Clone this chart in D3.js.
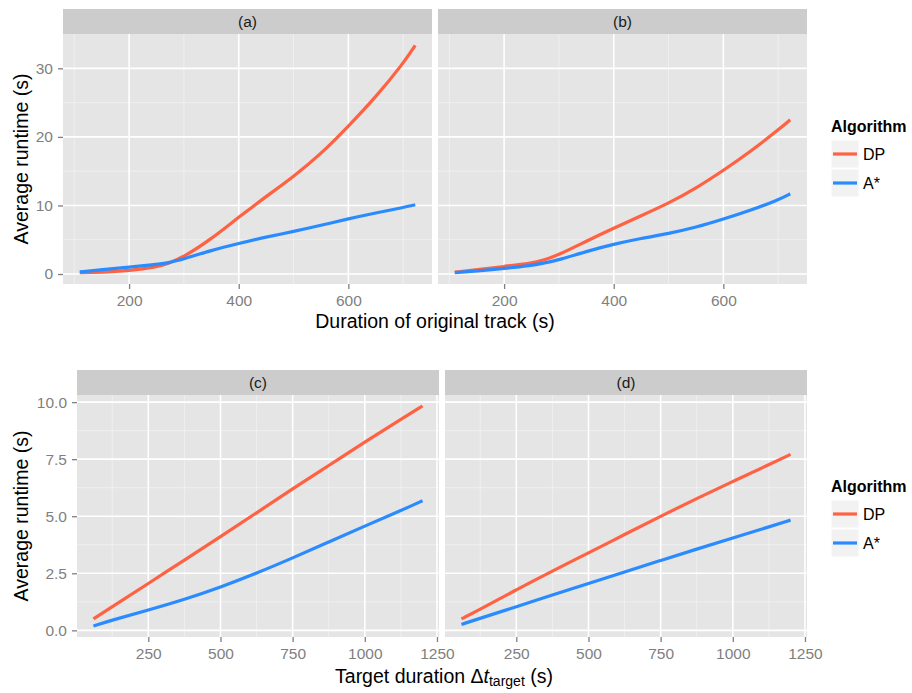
<!DOCTYPE html>
<html><head><meta charset="utf-8">
<script src="https://cdn.jsdelivr.net/npm/d3@7"></script>
<style>body{margin:0;background:#fff}svg{display:block}</style>
</head><body>
<svg id="chart" width="912" height="693"></svg>
<script>
// ---------- DATA ----------
const algorithms = ["DP", "A*"];
const colors = ["#FF6242", "#2A8BFF"];

const durationX = [110, 150, 200, 250, 270, 300, 350, 400, 450, 500, 550, 600, 650, 700, 722];
const dpA   = [0.2, 0.25, 0.5, 1.0, 1.5, 2.5, 5.1, 8.3, 11.3, 14.2, 17.5, 21.55, 25.8, 30.7, 33.35];
const astarA= [0.3, 0.62, 1.0, 1.4, 1.6, 2.2, 3.45, 4.45, 5.4, 6.2, 7.1, 8.05, 8.9, 9.7, 10.1];
const dpB   = [0.27, 0.6, 1.1, 1.6, 1.95, 2.8, 4.8, 6.7, 8.5, 10.3, 12.5, 15.1, 17.9, 21.0, 22.5];
const astarB= [0.2, 0.45, 0.8, 1.25, 1.55, 2.05, 3.3, 4.35, 5.2, 5.9, 6.8, 8.0, 9.3, 10.8, 11.7];

const targetX = [60, 125, 250, 375, 500, 625, 750, 875, 1000, 1125, 1200];
const dpC   = [0.5, 1.03, 2.05, 3.08, 4.1, 5.15, 6.2, 7.22, 8.25, 9.25, 9.83];
const astarC= [0.19, 0.45, 0.89, 1.35, 1.89, 2.5, 3.17, 3.87, 4.57, 5.25, 5.68];
const dpD   = [0.5, 0.92, 1.78, 2.6, 3.39, 4.2, 5.0, 5.78, 6.52, 7.26, 7.71];
const astarD= [0.26, 0.53, 1.03, 1.55, 2.05, 2.56, 3.06, 3.56, 4.05, 4.53, 4.83];

const topXTicks = [200, 400, 600];
const topYTicks = [0, 10, 20, 30];
const botXTicks = [250, 500, 750, 1000, 1250];
const botYTicks = [0, 2.5, 5, 7.5, 10];

// ---------- DRAW ----------
const svg = d3.select("#chart");
const FONT = "'Liberation Sans', Arial, Helvetica, sans-serif";

function expand(ext){ const r = ext[1]-ext[0]; return [ext[0]-r*0.05, ext[1]+r*0.05]; }

function drawRow(cfg){
  const allY = cfg.panels.flatMap(p => p.series.flat());
  const xDom = expand(d3.extent(cfg.xs));
  const yDom = expand(d3.extent(allY));
  const y = d3.scaleLinear().domain(yDom).range([cfg.bottom, cfg.top]);
  const yMinor = [];
  for (let i=0;i<cfg.yTicks.length-1;i++) yMinor.push((cfg.yTicks[i]+cfg.yTicks[i+1])/2);
  const xMinorAll = [];
  const step = cfg.xTicks[1]-cfg.xTicks[0];
  xMinorAll.push(cfg.xTicks[0]-step/2);
  for (let i=0;i<cfg.xTicks.length;i++) xMinorAll.push(cfg.xTicks[i]+step/2);

  cfg.panels.forEach((p, pi) => {
    const x = d3.scaleLinear().domain(xDom).range([p.x0, p.x1]);
    const g = svg.append("g");
    // strip
    g.append("rect").attr("x", p.x0).attr("y", cfg.stripTop).attr("width", p.x1-p.x0)
      .attr("height", cfg.top-cfg.stripTop).attr("fill", "#CCCCCC");
    g.append("text").attr("x", (p.x0+p.x1)/2).attr("y", (cfg.stripTop+cfg.top)/2)
      .attr("dy", "0.36em").attr("text-anchor", "middle").attr("font-family", FONT)
      .attr("font-size", 15.5).attr("fill", "#1a1a1a").text(p.label);
    // panel bg
    g.append("rect").attr("x", p.x0).attr("y", cfg.top).attr("width", p.x1-p.x0)
      .attr("height", cfg.bottom-cfg.top).attr("fill", "#E5E5E5");
    const inX = v => v >= xDom[0] && v <= xDom[1];
    const inY = v => v >= yDom[0] && v <= yDom[1];
    // minor grid
    g.selectAll(".mx").data(xMinorAll.filter(inX)).join("line")
      .attr("x1", d=>x(d)).attr("x2", d=>x(d)).attr("y1", cfg.top).attr("y2", cfg.bottom)
      .attr("stroke", "#F2F2F2").attr("stroke-width", 0.8);
    g.selectAll(".my").data(yMinor.filter(inY)).join("line")
      .attr("y1", d=>y(d)).attr("y2", d=>y(d)).attr("x1", p.x0).attr("x2", p.x1)
      .attr("stroke", "#F2F2F2").attr("stroke-width", 0.8);
    // major grid
    g.selectAll(".Mx").data(cfg.xTicks.filter(inX)).join("line")
      .attr("x1", d=>x(d)).attr("x2", d=>x(d)).attr("y1", cfg.top).attr("y2", cfg.bottom)
      .attr("stroke", "#FFFFFF").attr("stroke-width", 1.6);
    g.selectAll(".My").data(cfg.yTicks.filter(inY)).join("line")
      .attr("y1", d=>y(d)).attr("y2", d=>y(d)).attr("x1", p.x0).attr("x2", p.x1)
      .attr("stroke", "#FFFFFF").attr("stroke-width", 1.6);
    // x axis
    const xAxis = d3.axisBottom(x).tickValues(cfg.xTicks.filter(inX)).tickSize(5).tickPadding(6)
      .tickFormat(d => String(d));
    const ax = g.append("g").attr("transform", `translate(0,${cfg.bottom})`).call(xAxis);
    ax.select(".domain").remove();
    ax.selectAll(".tick line").attr("stroke", "#7F7F7F").attr("stroke-width", 1.3);
    ax.selectAll(".tick text").attr("fill", "#7F7F7F").attr("font-family", FONT).attr("font-size", 15.5);
    if (pi === 0){
      const yAxis = d3.axisLeft(y).tickValues(cfg.yTicks).tickSize(5).tickPadding(5)
        .tickFormat(cfg.yFormat);
      const ay = g.append("g").attr("transform", `translate(${p.x0},0)`).call(yAxis);
      ay.select(".domain").remove();
      ay.selectAll(".tick line").attr("stroke", "#7F7F7F").attr("stroke-width", 1.3);
      ay.selectAll(".tick text").attr("fill", "#7F7F7F").attr("font-family", FONT).attr("font-size", 15.5);
    }
    // lines
    const line = d3.line().x((d,i)=>x(cfg.xs[i])).y(d=>y(d)).curve(d3.curveBasis);
    p.series.forEach((s, si) => {
      g.append("path").datum(s).attr("d", line).attr("fill", "none")
        .attr("stroke", colors[si]).attr("stroke-width", 3.2);
    });
  });

  // y title
  svg.append("text").attr("transform", `translate(${cfg.yTitleX},${(cfg.top+cfg.bottom)/2}) rotate(-90)`)
    .attr("text-anchor", "middle").attr("font-family", FONT).attr("font-size", 19.5)
    .attr("fill", "#000").text("Average runtime (s)");

  // legend
  const lg = svg.append("g");
  lg.append("text").attr("x", 831).attr("y", cfg.legendTop).attr("font-family", FONT)
    .attr("font-weight", "bold").attr("font-size", 16).attr("fill", "#000").text("Algorithm");
  algorithms.forEach((a, i) => {
    const by = cfg.legendTop + 8 + i*29;
    lg.append("rect").attr("x", 831).attr("y", by).attr("width", 28).attr("height", 28)
      .attr("fill", "#F2F2F2").attr("stroke", "#FFFFFF").attr("stroke-width", 1);
    lg.append("line").attr("x1", 833).attr("x2", 857).attr("y1", by+14).attr("y2", by+14)
      .attr("stroke", colors[i]).attr("stroke-width", 3.2);
    lg.append("text").attr("x", 863).attr("y", by+14).attr("dy", "0.36em").attr("font-family", FONT)
      .attr("font-size", 16).attr("fill", "#000").text(a);
  });
}

drawRow({
  xs: durationX, stripTop: 9, top: 34, bottom: 284,
  xTicks: topXTicks, yTicks: topYTicks, yFormat: d3.format("d"), yTitleX: 28, legendTop: 132,
  panels: [
    {x0: 63, x1: 432, label: "(a)", series: [dpA, astarA]},
    {x0: 438, x1: 807, label: "(b)", series: [dpB, astarB]}
  ]
});
drawRow({
  xs: targetX, stripTop: 370, top: 395, bottom: 637,
  xTicks: botXTicks, yTicks: botYTicks, yFormat: d3.format(".1f"), yTitleX: 28, legendTop: 492,
  panels: [
    {x0: 77, x1: 439, label: "(c)", series: [dpC, astarC]},
    {x0: 445, x1: 807, label: "(d)", series: [dpD, astarD]}
  ]
});

// x titles
svg.append("text").attr("x", 435).attr("y", 328).attr("text-anchor", "middle")
  .attr("font-family", FONT).attr("font-size", 19.5).attr("fill", "#000")
  .text("Duration of original track (s)");
const bt = svg.append("text").attr("x", 444).attr("y", 683).attr("text-anchor", "middle")
  .attr("font-family", FONT).attr("font-size", 19.5).attr("fill", "#000");
bt.append("tspan").text("Target duration \u0394");
bt.append("tspan").attr("font-style", "italic").text("t");
bt.append("tspan").attr("font-size", 14).attr("dy", 3).text("target");
bt.append("tspan").attr("dy", -3).text(" (s)");
</script>
</body></html>
